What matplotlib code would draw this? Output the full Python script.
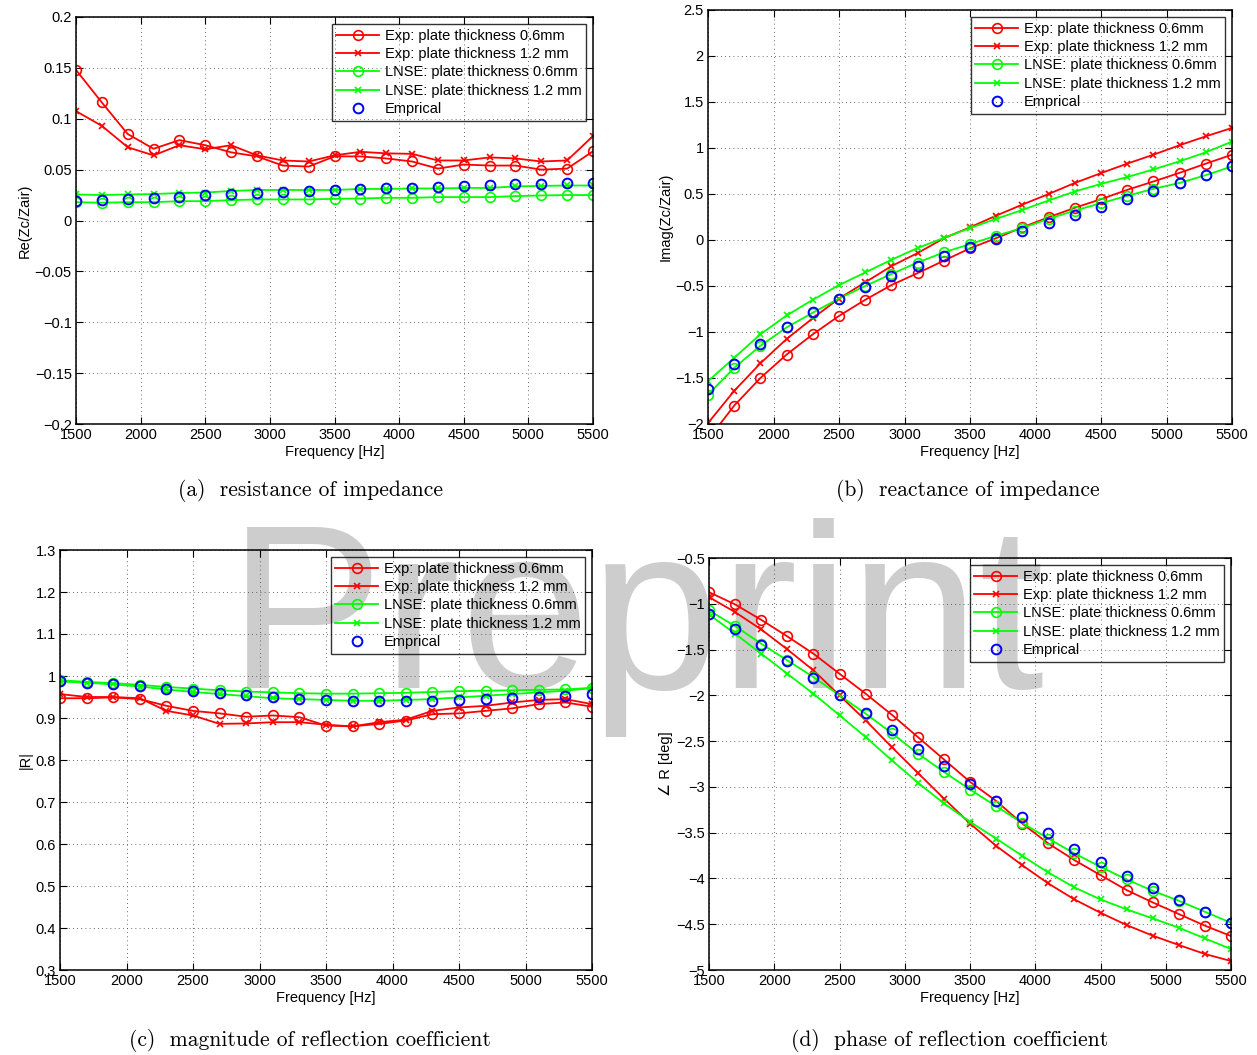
import numpy as np
import matplotlib
matplotlib.use('Agg')
import matplotlib.pyplot as plt
from matplotlib.ticker import FuncFormatter

plt.rcParams['font.family'] = ['Liberation Sans', 'DejaVu Sans']

# частоты (Гц)
freq = [1500, 1700, 1900, 2100, 2300, 2500, 2700, 2900, 3100, 3300, 3500,
        3700, 3900, 4100, 4300, 4500, 4700, 4900, 5100, 5300, 5500]

# (a) Re(Zc/Zair)
re_exp06 = [0.148, 0.116, 0.085, 0.0705, 0.079, 0.074, 0.067, 0.063, 0.054, 0.053, 0.063,
            0.063, 0.061, 0.058, 0.051, 0.055, 0.054, 0.054, 0.050, 0.051, 0.068]
re_exp12 = [0.1075, 0.093, 0.072, 0.064, 0.074, 0.070, 0.074, 0.064, 0.059, 0.058, 0.064,
            0.0675, 0.066, 0.0655, 0.059, 0.059, 0.062, 0.061, 0.058, 0.059, 0.083]
re_lnse06 = [0.018, 0.0175, 0.018, 0.018, 0.019, 0.019, 0.020, 0.0207, 0.0207, 0.0207, 0.0213,
             0.0216, 0.0223, 0.0223, 0.023, 0.023, 0.023, 0.024, 0.0246, 0.025, 0.025]
re_lnse12 = [0.0256, 0.025, 0.0256, 0.026, 0.027, 0.0275, 0.029, 0.030, 0.030, 0.030, 0.030,
             0.031, 0.031, 0.0315, 0.0315, 0.032, 0.032, 0.0335, 0.034, 0.0344, 0.0344]
re_emp = [0.019, 0.020, 0.0213, 0.0223, 0.0233, 0.0246, 0.026, 0.027, 0.028, 0.029, 0.030,
          0.0305, 0.0315, 0.032, 0.033, 0.034, 0.0344, 0.0354, 0.036, 0.037, 0.037]

# (b) Imag(Zc/Zair)
im_exp06 = [-2.17, -1.80, -1.50, -1.245, -1.025, -0.825, -0.65, -0.49, -0.36, -0.225, -0.09,
            0.02, 0.138, 0.247, 0.35, 0.444, 0.545, 0.636, 0.73, 0.83, 0.927]
im_exp12 = [-1.99, -1.64, -1.34, -1.076, -0.85, -0.636, -0.46, -0.284, -0.142, 0.018, 0.138,
            0.265, 0.385, 0.50, 0.62, 0.727, 0.83, 0.927, 1.03, 1.127, 1.218]
im_lnse06 = [-1.68, -1.39, -1.15, -0.95, -0.79, -0.636, -0.50, -0.37, -0.245, -0.135, -0.044,
             0.047, 0.13, 0.23, 0.32, 0.40, 0.48, 0.556, 0.62, 0.705, 0.80]
im_lnse12 = [-1.535, -1.28, -1.025, -0.82, -0.65, -0.49, -0.353, -0.215, -0.087, 0.022, 0.13,
             0.23, 0.327, 0.43, 0.527, 0.61, 0.684, 0.767, 0.855, 0.953, 1.07]
im_emp = [-1.615, -1.35, -1.135, -0.945, -0.78, -0.636, -0.516, -0.39, -0.28, -0.17, -0.08,
          0.01, 0.10, 0.19, 0.276, 0.364, 0.447, 0.538, 0.62, 0.705, 0.80]

# (c) |R|
mag_exp06 = [0.947, 0.947, 0.949, 0.945, 0.929, 0.917, 0.911, 0.903, 0.906, 0.902, 0.882,
             0.880, 0.886, 0.894, 0.909, 0.911, 0.917, 0.923, 0.933, 0.937, 0.927]
mag_exp12 = [0.957, 0.950, 0.950, 0.947, 0.917, 0.906, 0.886, 0.887, 0.890, 0.890, 0.884,
             0.880, 0.890, 0.896, 0.917, 0.925, 0.929, 0.937, 0.943, 0.945, 0.933]
mag_lnse06 = [0.990, 0.986, 0.983, 0.979, 0.974, 0.970, 0.966, 0.963, 0.961, 0.959, 0.958,
              0.958, 0.959, 0.960, 0.962, 0.964, 0.965, 0.966, 0.967, 0.968, 0.972]
mag_lnse12 = [0.987, 0.984, 0.980, 0.975, 0.968, 0.962, 0.957, 0.952, 0.947, 0.945, 0.943,
              0.941, 0.941, 0.943, 0.945, 0.949, 0.953, 0.957, 0.961, 0.965, 0.971]
mag_emp = [0.988, 0.984, 0.980, 0.976, 0.969, 0.965, 0.959, 0.954, 0.949, 0.945, 0.943,
           0.941, 0.941, 0.941, 0.941, 0.943, 0.945, 0.947, 0.950, 0.953, 0.957]

# (d) фаза R (град)
ph_exp06 = [-0.873, -1.007, -1.175, -1.356, -1.545, -1.764, -1.982, -2.211, -2.455, -2.70, -2.945,
            -3.153, -3.40, -3.618, -3.80, -3.964, -4.127, -4.262, -4.389, -4.516, -4.629]
ph_exp12 = [-0.927, -1.091, -1.28, -1.498, -1.727, -2.0, -2.273, -2.564, -2.847, -3.127, -3.40,
            -3.644, -3.855, -4.055, -4.229, -4.375, -4.509, -4.625, -4.727, -4.825, -4.902]
ph_lnse06 = [-1.073, -1.244, -1.436, -1.618, -1.80, -2.0, -2.2, -2.411, -2.636, -2.836, -3.029,
             -3.211, -3.393, -3.564, -3.727, -3.873, -4.011, -4.135, -4.244, -4.364, -4.484]
ph_lnse12 = [-1.116, -1.327, -1.545, -1.764, -1.982, -2.218, -2.455, -2.709, -2.953, -3.18, -3.382,
             -3.564, -3.753, -3.935, -4.098, -4.229, -4.338, -4.436, -4.538, -4.655, -4.771]
ph_emp = [-1.109, -1.273, -1.447, -1.625, -1.807, -2.0, -2.193, -2.382, -2.582, -2.775, -2.964,
          -3.153, -3.327, -3.502, -3.673, -3.818, -3.971, -4.109, -4.236, -4.364, -4.484]

labels = ['Exp: plate thickness 0.6mm', 'Exp: plate thickness 1.2 mm',
          'LNSE: plate thickness 0.6mm', 'LNSE: plate thickness 1.2 mm', 'Emprical']

x_ticks = [1500, 2000, 2500, 3000, 3500, 4000, 4500, 5000, 5500]
yt_a = [-0.2, -0.15, -0.1, -0.05, 0, 0.05, 0.1, 0.15, 0.2]
yt_b = [-2, -1.5, -1, -0.5, 0, 0.5, 1, 1.5, 2, 2.5]
yt_c = [0.3, 0.4, 0.5, 0.6, 0.7, 0.8, 0.9, 1.0, 1.1, 1.2, 1.3]
yt_d = [-5, -4.5, -4, -3.5, -3, -2.5, -2, -1.5, -1, -0.5]

W, H = 1257, 1055
fig = plt.figure(figsize=(W / 100, H / 100), dpi=100)


def rect(l, r, t, b):
    return [l / W, 1 - b / H, (r - l) / W, (b - t) / H]


fmt = FuncFormatter(lambda v, p: ('%g' % v).replace('-', '\u2212'))


def panel(pos, series, yticks, ylab, caption, cap_xy):
    ax = fig.add_axes(pos)
    ax.set_facecolor('none')
    e06, e12, l06, l12, emp = series
    ax.plot(freq, e06, '-o', color='r', lw=1.3, ms=7, mfc='none', mew=1.2)
    ax.plot(freq, e12, '-x', color='r', lw=1.3, ms=5, mew=1.2)
    ax.plot(freq, l06, '-o', color=(0, 1, 0), lw=1.3, ms=7, mfc='none', mew=1.2)
    ax.plot(freq, l12, '-x', color=(0, 1, 0), lw=1.3, ms=5, mew=1.2)
    ax.plot(freq, emp, 'o', color='b', ms=7, mfc='none', mew=1.4)
    ax.set_xlim(x_ticks[0], x_ticks[-1])
    ax.set_ylim(yticks[0], yticks[-1])
    ax.set_xticks(x_ticks)
    ax.set_yticks(yticks)
    ax.yaxis.set_major_formatter(fmt)
    ax.tick_params(direction='in', top=True, right=True, length=5, width=0.8,
                   labelsize=10.5, pad=3)
    ax.grid(True, linestyle=(0, (1, 4)), color='0.25', linewidth=0.6)
    for s in ax.spines.values():
        s.set_linewidth(1.1)
    ax.set_xlabel('Frequency [Hz]', fontsize=10.5, labelpad=2)
    ax.set_ylabel(ylab, fontsize=10.5, labelpad=2)
    leg = ax.legend(labels, loc='upper right', fontsize=10.5, frameon=True,
                    fancybox=False, edgecolor='k', facecolor='none',
                    handlelength=2.9, handletextpad=0.4, labelspacing=0.3,
                    borderpad=0.3, borderaxespad=0.5)
    leg.get_frame().set_linewidth(1.0)
    fig.text(cap_xy[0] / W, 1 - cap_xy[1] / H, caption, family='cmr10',
             fontsize=15.5, ha='center', va='center')
    return ax


panel(rect(76, 593, 17, 424), (re_exp06, re_exp12, re_lnse06, re_lnse12, re_emp),
      yt_a, 'Re(Zc/Zair)', '(a)  resistance of impedance', (310, 491))
panel(rect(708, 1232, 10, 424), (im_exp06, im_exp12, im_lnse06, im_lnse12, im_emp),
      yt_b, 'Imag(Zc/Zair)', '(b)  reactance of impedance', (968, 491))
panel(rect(60, 592, 550, 970), (mag_exp06, mag_exp12, mag_lnse06, mag_lnse12, mag_emp),
      yt_c, '|R|', '(c)  magnitude of reflection coefficient', (310, 1040))
panel(rect(709, 1231, 558, 970), (ph_exp06, ph_exp12, ph_lnse06, ph_lnse12, ph_emp),
      yt_d, '\u2220 R [deg]', '(d)  phase of reflection coefficient', (950, 1040))

# водяной знак
fig.text(636 / W, 1 - 688 / H, 'Preprint', fontsize=168, color='#cdcdcd',
         ha='center', va='baseline', family='Liberation Sans', zorder=-1)

fig.savefig('out.png', dpi=100)
